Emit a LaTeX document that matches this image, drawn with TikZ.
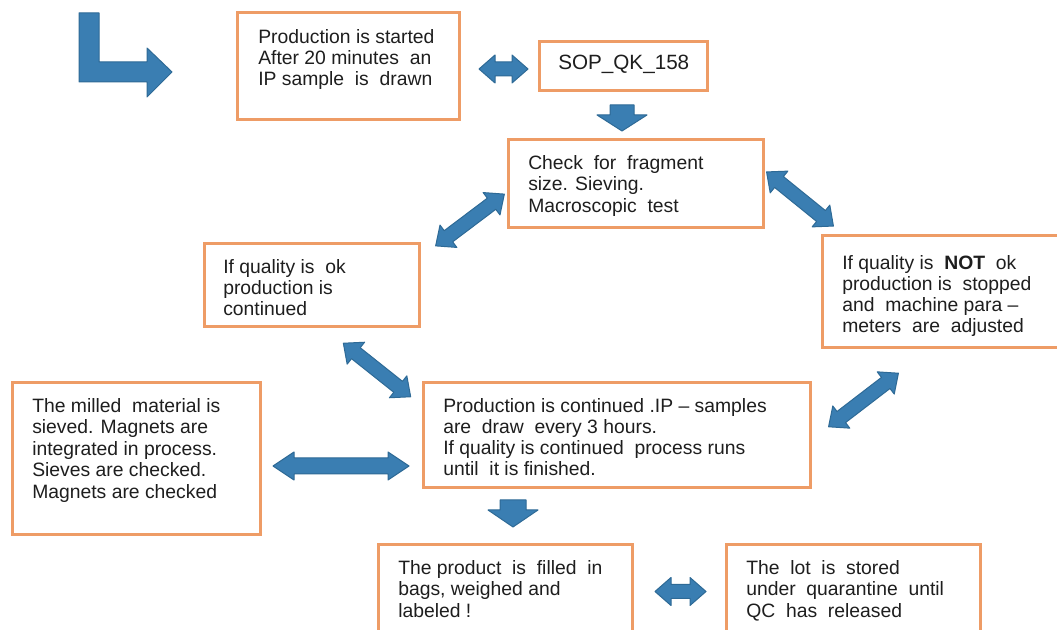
\documentclass[tikz,border=0pt]{standalone}
\usepackage{fontspec}
\setmainfont{Liberation Sans}
\usetikzlibrary{fit}
\definecolor{boxorange}{HTML}{EE9C66}
\definecolor{arrowblue}{HTML}{3A7EB2}
\definecolor{arrowedge}{HTML}{2E6A96}
\definecolor{txtgray}{HTML}{1E1E1E}
\tikzset{
  box/.style={draw=boxorange, line width=2.25pt, rectangle, inner sep=0pt, fill=white},
  txt/.style={anchor=north west, inner sep=0pt, align=left, text=txtgray,
    font=\fontsize{14.5}{15.75}\selectfont},
  arrowstyle/.style={fill=arrowblue, draw=arrowedge, line width=0.75pt, line join=round}
}
\newcommand{\blockdbl}[7]{% cx cy angle len shafthalf headhalf headlen
  \begin{scope}[shift={(#1,#2)},rotate=#3]
    \filldraw[arrowstyle] ({-#4/2},0) -- ({-#4/2+#7},#6) -- ({-#4/2+#7},#5) -- ({#4/2-#7},#5)
      -- ({#4/2-#7},#6) -- ({#4/2},0) -- ({#4/2-#7},-#6) -- ({#4/2-#7},-#5)
      -- ({-#4/2+#7},-#5) -- ({-#4/2+#7},-#6) -- cycle;
  \end{scope}}
\newcommand{\blockdown}[6]{% cx top shafthalf headhalf shaftbottom tip
  \filldraw[arrowstyle] ({#1-#3},#2) -- ({#1+#3},#2) -- ({#1+#3},#5) -- ({#1+#4},#5)
    -- (#1,#6) -- ({#1-#4},#5) -- ({#1-#3},#5) -- cycle;}
\begin{document}
\begin{tikzpicture}[x=0.75pt,y=-0.75pt]
\useasboundingbox[fill=white] (0,0) rectangle (1057,630);

% L-shaped start arrow
\filldraw[arrowstyle] (79,13) -- (99,13) -- (99,62) -- (147,62) -- (147,48) -- (172,72)
  -- (147,97) -- (147,82) -- (79,82) -- cycle;

% boxes
\node[box, fit={(237,13) (459,120)}] (b1) {};
\node[box, fit={(539,42) (707,91)}] (b2) {};
\node[box, fit={(508,140) (763,228)}] (b3) {};
\node[box, fit={(204,244) (419,327)}] (b4) {};
\node[box, fit={(822,236) (1064,348)}] (b5) {};
\node[box, fit={(423,383) (810,488)}] (b6) {};
\node[box, fit={(12,383) (260,535)}] (b7) {};
\node[box, fit={(378,545) (632,640)}] (b8) {};
\node[box, fit={(726,545) (980,640)}] (b9) {};

% texts
\node[txt] (t1) at (258,29) {Production is started\\After 20 minutes~ an\\IP sample~ is~ drawn};
\node[txt, anchor=base west, font=\fontsize{15.5}{17}\selectfont] (t2) at (558,70) {SOP\_QK\_158};
\node[txt, font=\fontsize{14.5}{16.1}\selectfont] (t3) at (528,155) {Check~ for~ fragment\\size. Sieving.\\Macroscopic~ test};
\node[txt] (t4) at (223,259) {If quality is~ ok\\production is\\continued};
\node[txt] (t5) at (842,255) {If quality is~ \textbf{NOT}~ ok\\production is~ stopped\\and~ machine para --\\meters~ are~ adjusted};
\node[txt] (t6) at (443,398) {Production is continued .IP -- samples\\are~ draw~ every 3 hours.\\If quality is continued~ process runs\\until~ it is finished.};
\node[txt, font=\fontsize{14.5}{16.1}\selectfont] (t7) at (32,398) {The milled~ material is\\sieved. Magnets are\\integrated in process.\\Sieves are checked.\\Magnets are checked};
\node[txt, font=\fontsize{14.5}{16.1}\selectfont] (t8) at (398,560) {The product~ is~ filled~ in\\bags, weighed and\\labeled !};
\node[txt, font=\fontsize{14.5}{16.1}\selectfont] (t9) at (746,560) {The~ lot~ is~ stored\\under~ quarantine~ until\\QC~ has~ released};

% connector block arrows
\blockdbl{503.5}{69}{0}{49}{7}{14}{16}
\blockdown{622}{105}{12}{25}{115}{131}
\blockdbl{470}{220}{37}{86}{7}{14}{16}
\blockdbl{800}{199}{-39}{86}{7}{14}{16}
\blockdbl{377}{370}{-38.5}{86}{7}{14}{16}
\blockdbl{863.5}{400}{37.5}{88}{7}{14}{16}
\blockdbl{341}{466}{0}{136}{8}{14}{21}
\blockdown{513}{500}{13}{25}{510}{527}
\blockdbl{680.5}{591.5}{0}{51}{7}{14}{16}
\end{tikzpicture}
\end{document}
